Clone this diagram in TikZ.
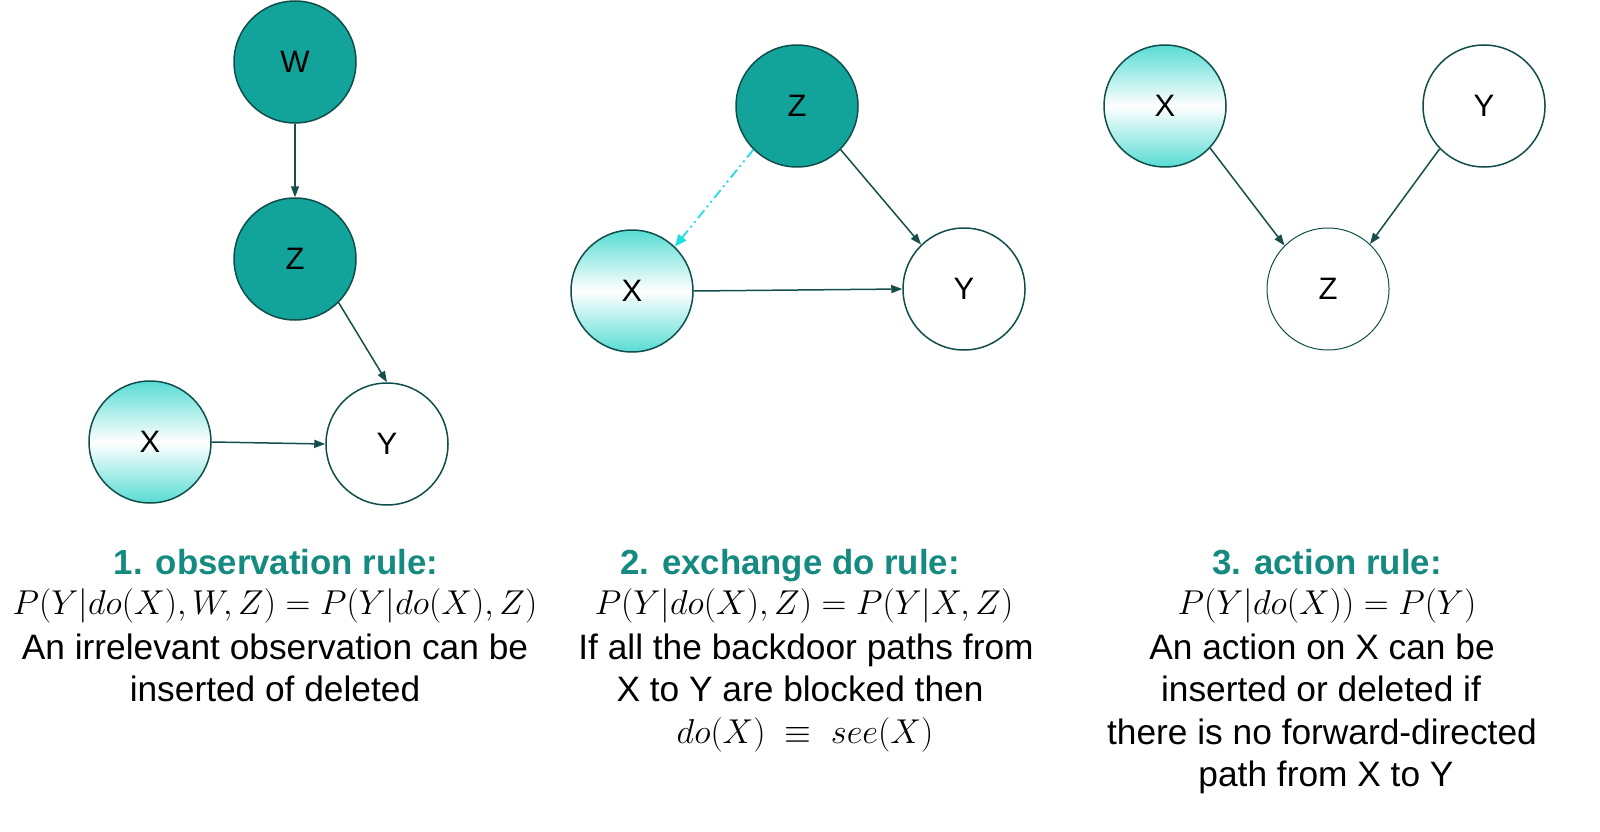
\RequirePackage{fix-cm}
\documentclass[tikz,border=0pt]{standalone}
\usepackage{fontspec}
\setmainfont{Liberation Sans}
\usetikzlibrary{arrows.meta}
\definecolor{tealfill}{RGB}{18,163,154}
\definecolor{tealedge}{RGB}{16,78,75}
\definecolor{arrowcol}{RGB}{22,78,76}
\definecolor{xcol}{RGB}{88,220,212}
\definecolor{titlecol}{RGB}{20,138,128}
\definecolor{cyanarrow}{RGB}{30,224,226}
\tikzset{
  var/.style={circle, minimum size=122pt, inner sep=0pt, draw=tealedge, line width=1.5pt,
    font=\fontsize{31}{36}\selectfont},
  darkvar/.style={var, fill=tealfill},
  whitevar/.style={var, fill=white},
  gradvar/.style={var, top color=xcol, bottom color=xcol, middle color=white},
  link/.style={draw=arrowcol, line width=1.5pt, -{Triangle[length=11pt,width=8pt]}},
  backdoor/.style={draw=cyanarrow, line width=1.8pt, dash pattern=on 10pt off 4pt on 2pt off 4pt on 2pt off 4pt,
    -{Triangle[length=12pt,width=10pt]}},
  title/.style={anchor=base, font=\fontsize{34.8}{40}\selectfont\bfseries, text=titlecol, inner sep=0pt},
  body/.style={anchor=base, font=\fontsize{35.3}{42}\selectfont, inner sep=0pt},
  formula/.style={anchor=base, font=\fontsize{34.5}{42}\selectfont, inner sep=0pt},
}
\begin{document}
\begin{tikzpicture}[x=1pt,y=-1pt]
\useasboundingbox (0,0) rectangle (1600,832);
% graph 1
\node[darkvar] (W1) at (295,62) {W};
\node[darkvar] (Z1) at (295,259) {Z};
\node[gradvar] (X1) at (150,442) {X};
\node[whitevar] (Y1) at (387,444) {Y};
\draw[link] (W1) -- (Z1);
\draw[link] (Z1.-45) -- (Y1.north);
\draw[link] (X1.east) -- (Y1.west);
% graph 2
\node[darkvar] (Z2) at (797,106) {Z};
\node[gradvar] (X2) at (632,291) {X};
\node[whitevar] (Y2) at (964,289) {Y};
\draw[backdoor] (Z2.-135) -- (X2.46);
\draw[link] (Z2.-45) -- (Y2.134);
\draw[link] (X2.east) -- (Y2.west);
% graph 3
\node[gradvar] (X3) at (1165,106) {X};
\node[whitevar] (Y3) at (1484,106) {Y};
\node[whitevar, line width=1pt] (Z3) at (1328,289) {Z};
\draw[link] (X3.-43) -- (Z3.135);
\draw[link] (Y3.-136) -- (Z3.47);
% texts column 1
\node[title] (t1) at (276,574) {1. observation rule:};
\node[formula] (f1) at (275,614) {$P(Y|do(X),W,Z)=P(Y|do(X),Z)$};
\node[body] (a1) at (275,659) {An irrelevant observation can be};
\node[body] (b1) at (275,701) {inserted of deleted};
% texts column 2
\node[title] (t2) at (790,574) {2. exchange do rule:};
\node[formula] (f2) at (804,614) {$P(Y|do(X),Z)=P(Y|X,Z)$};
\node[body] (a2) at (806,659) {If all the backdoor paths from};
\node[body] (b2) at (800,701) {X to Y are blocked then};
\node[formula] (c2) at (805,743) {$do(X)\;\equiv\;see(X)$};
% texts column 3
\node[title] (t3) at (1327,574) {3. action rule:};
\node[formula] (f3) at (1327,614) {$P(Y|do(X))=P(Y)$};
\node[body] (a3) at (1322,659) {An action on X can be};
\node[body] (b3) at (1321,701) {inserted or deleted if};
\node[body] (c3) at (1322,744) {there is no forward-directed};
\node[body] (d3) at (1326,786) {path from X to Y};
\end{tikzpicture}
\end{document}
